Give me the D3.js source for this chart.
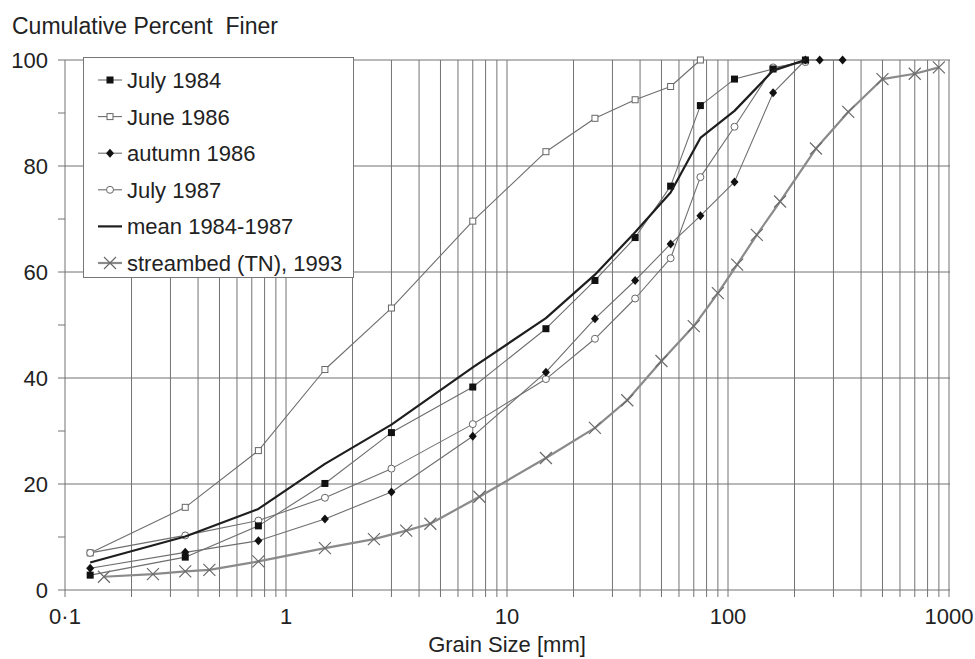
<!DOCTYPE html>
<html><head><meta charset="utf-8">
<script src="https://cdn.jsdelivr.net/npm/d3@7"></script>
<style>
body{margin:0;background:#fff;}
text{font-family:"Liberation Sans",Arial,sans-serif;fill:#222;}
</style></head>
<body><svg id="c" width="975" height="659"></svg>
<script>
// ---- data ----
const july1984_x = [0.13,0.35,0.75,1.5,3,7,15,25,38,55,75,107,160,224];
const july1984_y = [2.8,6.2,12.1,20.1,29.7,38.3,49.3,58.4,66.5,76.2,91.4,96.4,98.3,100];
const june1986_x = [0.13,0.35,0.75,1.5,3,7,15,25,38,55,75];
const june1986_y = [7.0,15.6,26.3,41.6,53.2,69.6,82.7,89.0,92.5,95.0,100];
const autumn1986_x = [0.13,0.35,0.75,1.5,3,7,15,25,38,55,75,107,160,224,260,330];
const autumn1986_y = [4.1,7.1,9.3,13.4,18.5,29.0,41.1,51.2,58.4,65.3,70.6,77.0,93.8,100,100,100];
const july1987_x = [0.13,0.35,0.75,1.5,3,7,15,25,38,55,75,107,160,224];
const july1987_y = [7.0,10.3,13.1,17.4,22.9,31.3,39.8,47.4,55.0,62.6,77.9,87.4,98.6,99.6];
const mean_x = [0.13,0.35,0.75,1.5,3,7,15,25,38,55,75,107,160,224];
const mean_y = [5.2,10.1,15.3,23.8,31.2,42.0,51.3,59.5,67.5,75.0,85.3,90.4,98.0,100];
const stream_x = [0.15,0.25,0.35,0.45,0.75,1.5,2.5,3.5,4.5,7.5,15,25,35,50,70,90,110,135,172,250,350,500,700,900];
const stream_y = [2.5,3.0,3.5,3.8,5.4,7.9,9.6,11.2,12.5,17.6,24.9,30.6,35.8,43.2,49.8,56.0,61.4,67.0,73.3,83.3,90.2,96.4,97.4,98.6];
const seriesNames = ["July 1984","June 1986","autumn 1986","July 1987","mean 1984-1987","streambed (TN), 1993"];
const yTickValues = [0,20,40,60,80,100];
const yMinorTicks = [10,30,50,70,90];
const xTickValues = [0.1,1,10,100,1000];
const xTickLabels = ["0·1","1","10","100","1000"];
const titleText = "Cumulative Percent  Finer";
const xTitle = "Grain Size [mm]";

// ---- chart ----
const svg = d3.select("#c");
const x = d3.scaleLog().domain([0.1,1000]).range([65,949]);
const y = d3.scaleLinear().domain([0,100]).range([590,60]);
const gridC = "#737373";

// vertical grid (1..9 per decade)
const vgrid = [];
for (let e=-1;e<3;e++) for (let k=1;k<10;k++) vgrid.push(k*Math.pow(10,e));
vgrid.push(1000);
svg.append("g").selectAll("line").data(vgrid).join("line")
  .attr("x1",d=>x(d)).attr("x2",d=>x(d))
  .attr("y1",y(100)).attr("y2",y(0)+7)
  .attr("stroke",gridC).attr("stroke-width",1);
// horizontal grid
svg.append("g").selectAll("line").data(yTickValues).join("line")
  .attr("x1",x(0.1)-7).attr("x2",x(1000)+1)
  .attr("y1",d=>y(d)).attr("y2",d=>y(d))
  .attr("stroke",gridC).attr("stroke-width",1);
svg.append("g").selectAll("line").data(yMinorTicks).join("line")
  .attr("x1",x(0.1)-7).attr("x2",x(0.1))
  .attr("y1",d=>y(d)).attr("y2",d=>y(d))
  .attr("stroke",gridC).attr("stroke-width",1);

// y labels
svg.append("g").selectAll("text").data(yTickValues).join("text")
  .attr("x",48).attr("y",d=>y(d)+8)
  .attr("text-anchor","end").attr("font-size",22)
  .text(d=>d);
// x labels
svg.append("g").selectAll("text").data(xTickValues).join("text")
  .attr("x",d=>x(d)).attr("y",624)
  .attr("text-anchor","middle").attr("font-size",22)
  .text((d,i)=>xTickLabels[i]);
svg.append("text").attr("x",x(10)).attr("y",652)
  .attr("text-anchor","middle").attr("font-size",22).text(xTitle);
svg.append("text").attr("x",12).attr("y",34)
  .attr("font-size",23).style("white-space","pre").text(titleText);

// series
const zip = (xs,ys)=>xs.map((v,i)=>[v,ys[i]]);
const line = d3.line().x(d=>x(d[0])).y(d=>y(d[1]));
const thinC = "#6e6e6e";
const S = [
  {data:zip(july1984_x,july1984_y), stroke:thinC, w:1.1, m:"fsquare"},
  {data:zip(june1986_x,june1986_y), stroke:thinC, w:1.1, m:"osquare"},
  {data:zip(autumn1986_x,autumn1986_y), stroke:thinC, w:1.1, m:"diamond"},
  {data:zip(july1987_x,july1987_y), stroke:thinC, w:1.1, m:"ocircle"},
  {data:zip(mean_x,mean_y), stroke:"#1e1e1e", w:2.2, m:null},
  {data:zip(stream_x,stream_y), stroke:"#8a8a8a", w:2.2, m:"cross"}
];
function marker(g, type, cx, cy){
  if(type==="fsquare") g.append("rect").attr("x",cx-3.5).attr("y",cy-3.5).attr("width",7).attr("height",7).attr("fill","#111");
  else if(type==="osquare") g.append("rect").attr("x",cx-3).attr("y",cy-3).attr("width",6).attr("height",6).attr("fill","#fff").attr("stroke","#666").attr("stroke-width",1);
  else if(type==="diamond") g.append("path").attr("d",`M${cx},${cy-4.5}L${cx+4},${cy}L${cx},${cy+4.5}L${cx-4},${cy}Z`).attr("fill","#111");
  else if(type==="ocircle") g.append("circle").attr("cx",cx).attr("cy",cy).attr("r",3.5).attr("fill","#fff").attr("stroke","#666").attr("stroke-width",1);
  else if(type==="cross") g.append("path").attr("d",`M${cx-6},${cy-6}L${cx+6},${cy+6}M${cx-6},${cy+6}L${cx+6},${cy-6}`).attr("stroke","#6a6a6a").attr("stroke-width",1.2).attr("fill","none");
}
const order=[5,1,3,2,0,4];
order.forEach(i=>{
  const s=S[i];
  const g=svg.append("g");
  g.append("path").datum(s.data).attr("d",line).attr("fill","none")
    .attr("stroke",s.stroke).attr("stroke-width",s.w).attr("stroke-linejoin","round");
  if(s.m) s.data.forEach(d=>marker(g,s.m,x(d[0]),y(d[1])));
});

// legend
const lg = svg.append("g");
lg.append("rect").attr("x",83.5).attr("y",57.5).attr("width",270).attr("height",220)
  .attr("fill","#fff").attr("stroke","#777").attr("stroke-width",1);
seriesNames.forEach((n,i)=>{
  const cy = 80 + i*36.6;
  const s=S[i];
  lg.append("line").attr("x1",98).attr("x2",122).attr("y1",cy).attr("y2",cy)
    .attr("stroke",s.stroke).attr("stroke-width",s.w);
  if(s.m) marker(lg,s.m,110,cy);
  lg.append("text").attr("x",127).attr("y",cy+8).attr("font-size",22).text(n);
});
</script></body></html>
